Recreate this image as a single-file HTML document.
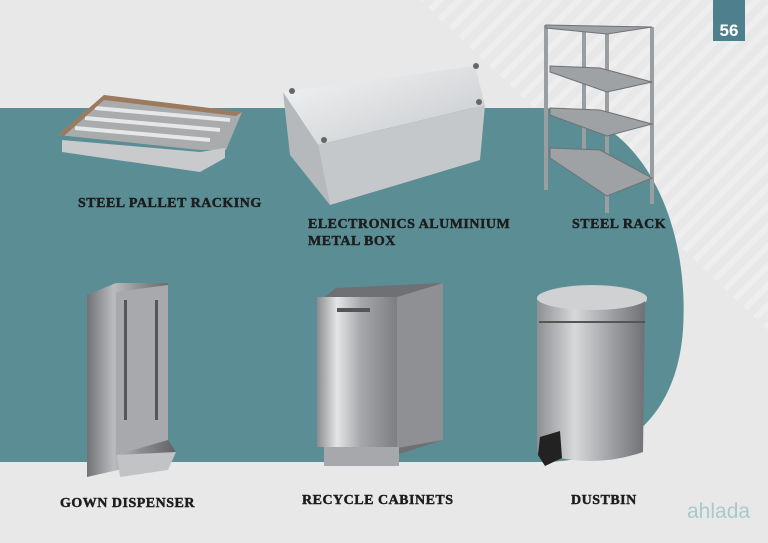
<!DOCTYPE html>
<html><head><meta charset="utf-8"><style>
html,body{margin:0;padding:0;width:768px;height:543px;overflow:hidden;background:#e8e8e9}
svg{display:block}
text{font-family:"Liberation Serif",serif;font-weight:bold;fill:#1d1d1d;stroke:#1d1d1d;stroke-width:.45px}
</style></head><body>
<svg width="768" height="543" viewBox="0 0 768 543" xmlns="http://www.w3.org/2000/svg">
<defs>
<pattern id="st" width="14" height="14" patternUnits="userSpaceOnUse" patternTransform="rotate(45)">
<rect width="14" height="14" fill="#e8e8e9"/><rect width="6" height="14" fill="#eeeeef"/>
</pattern>
<linearGradient id="m1" x1="0" x2="1"><stop offset="0" stop-color="#8d8f92"/><stop offset=".35" stop-color="#d6d8da"/><stop offset=".7" stop-color="#9c9ea1"/><stop offset="1" stop-color="#6f7174"/></linearGradient>
<linearGradient id="m2" x1="0" x2="1"><stop offset="0" stop-color="#707275"/><stop offset=".3" stop-color="#b9bbbd"/><stop offset=".6" stop-color="#8c8e91"/><stop offset="1" stop-color="#5f6164"/></linearGradient>
<linearGradient id="m3" x1="0" x2="1"><stop offset="0" stop-color="#8a8c8f"/><stop offset=".25" stop-color="#e4e5e6"/><stop offset=".55" stop-color="#a5a7aa"/><stop offset="1" stop-color="#7c7e81"/></linearGradient>
<linearGradient id="bx" x1="0" y1="0" x2="1" y2="1"><stop offset="0" stop-color="#f4f5f6"/><stop offset="1" stop-color="#c5c8cb"/></linearGradient>
</defs>
<polygon points="420,0 768,0 768,330" fill="url(#st)"/>
<path d="M0,108 L540,108 C640,108 690,220 683,330 C678,400 640,462 540,462 L0,462 Z" fill="#5b8d95"/>
<rect x="713" y="0" width="32" height="41" fill="#4e7f8c"/>
<text x="729" y="36" text-anchor="middle" style="font-family:'Liberation Sans',sans-serif;font-size:17px;fill:#fff;stroke:none">56</text>

<!-- pallet -->
<polygon points="58,135 104,95 242,112 226,150 200,150" fill="#a9abad"/>
<polygon points="62,140 200,152 225,148 225,158 200,172 62,152" fill="#c8cacc"/>
<g stroke="#e6e7e8" stroke-width="4"><line x1="75" y1="128" x2="210" y2="140"/><line x1="85" y1="118" x2="220" y2="130"/><line x1="95" y1="108" x2="230" y2="120"/></g>
<polygon points="58,135 104,95 242,112 236,116 104,100 64,136" fill="#9b7a5e"/>

<!-- box -->
<polygon points="283,92 475,66 485,105 318,145" fill="url(#bx)"/>
<polygon points="283,92 318,145 330,205 290,155" fill="#b6b9bc"/>
<polygon points="318,145 485,105 480,160 330,205" fill="#c5c8cb"/>
<circle cx="292" cy="91" r="3" fill="#666"/><circle cx="476" cy="66" r="3" fill="#666"/><circle cx="479" cy="102" r="3" fill="#666"/><circle cx="324" cy="140" r="3" fill="#666"/>

<!-- rack -->
<g stroke="#9b9ea1" stroke-width="4" fill="none">
<line x1="546" y1="25" x2="546" y2="190"/><line x1="584" y1="30" x2="584" y2="165"/><line x1="607" y1="30" x2="607" y2="213"/><line x1="652" y1="27" x2="652" y2="204"/>
</g>
<g fill="#9fa2a5" stroke="#6f7275" stroke-width="1">
<polygon points="546,25 652,27 607,34 546,28"/>
<polygon points="550,66 600,68 652,82 607,92 550,72"/>
<polygon points="550,108 600,110 652,124 607,136 550,115"/>
<polygon points="550,148 600,150 652,178 607,196 550,158"/>
</g>

<!-- gown dispenser -->
<polygon points="87,295 116,283 168,283 168,440 176,452 150,470 118,470 87,477" fill="url(#m2)"/>
<polygon points="116,292 168,285 168,440 116,455" fill="#a7a9ac"/>
<g fill="#555">
<rect x="124" y="300" width="3" height="120"/><rect x="155" y="300" width="3" height="120"/>
</g>
<polygon points="117,455 176,452 168,470 120,477" fill="#c1c3c5"/>

<!-- cabinet -->
<polygon points="317,303 336,288 443,283 443,440 396,455" fill="#6e7073"/>
<rect x="317" y="297" width="80" height="150" fill="url(#m3)"/>
<polygon points="397,297 443,283 443,440 397,448" fill="#8e9093"/>
<rect x="337" y="308" width="33" height="4" fill="#555"/>
<rect x="324" y="447" width="75" height="19" fill="#a6a8ab"/>

<!-- dustbin -->
<ellipse cx="592" cy="299" rx="55" ry="14" fill="#c9cbcd"/>
<path d="M537,300 L537,452 Q592,470 643,452 L645,300 Z" fill="url(#m1)"/>
<ellipse cx="592" cy="298" rx="55" ry="12" fill="#cfd1d3"/>
<line x1="539" y1="322" x2="645" y2="322" stroke="#555" stroke-width="2"/>
<polygon points="540,437 560,431 562,458 545,466 538,455" fill="#222"/>

<!-- labels -->
<text x="78" y="207" style="font-size:14px;letter-spacing:.5px">STEEL PALLET RACKING</text>
<text x="308" y="228" style="font-size:14px;letter-spacing:.5px">ELECTRONICS ALUMINIUM</text>
<text x="308" y="245" style="font-size:14px;letter-spacing:.5px">METAL BOX</text>
<text x="572" y="228" style="font-size:14px;letter-spacing:.5px">STEEL RACK</text>
<text x="60" y="507" style="font-size:14px;letter-spacing:.5px">GOWN DISPENSER</text>
<text x="302" y="504" style="font-size:14px;letter-spacing:.5px">RECYCLE CABINETS</text>
<text x="571" y="504" style="font-size:14px;letter-spacing:.5px">DUSTBIN</text>
<text x="687" y="518" style="font-family:'Liberation Sans',sans-serif;font-weight:normal;font-size:21px;fill:#a8c9cc;stroke:none">ahlada</text>
</svg>
</body></html>
